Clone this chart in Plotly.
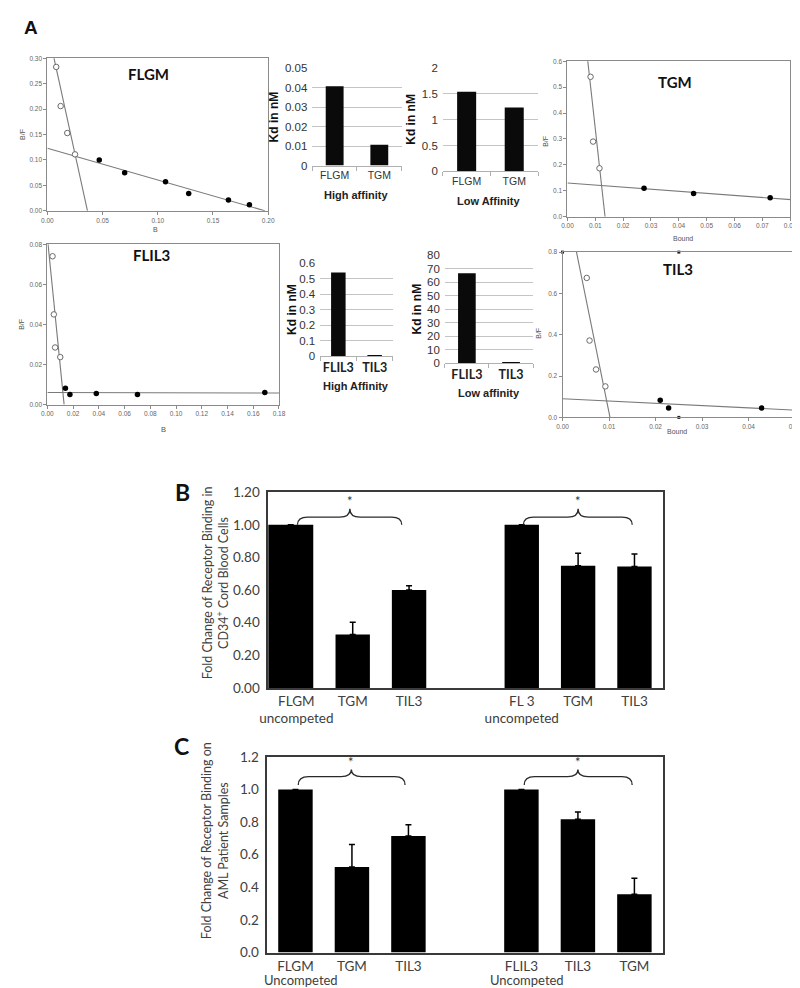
import plotly.graph_objects as go

# ---------------- Panel A: Scatchard data ----------------
flgm_hi_b = [0.008, 0.012, 0.018, 0.025]
flgm_hi_bf = [0.283, 0.206, 0.153, 0.111]
flgm_lo_b = [0.047, 0.070, 0.107, 0.128, 0.164, 0.183]
flgm_lo_bf = [0.100, 0.075, 0.057, 0.034, 0.021, 0.012]
flgm_fit_hi = (0.3595, 0.0363)   # (y-intercept, x-intercept)
flgm_fit_lo = (0.123, 0.197)

tgm_hi_b = [0.0083, 0.0092, 0.0115]
tgm_hi_bf = [0.54, 0.29, 0.187]
tgm_lo_b = [0.0275, 0.0453, 0.0728]
tgm_lo_bf = [0.110, 0.090, 0.073]
tgm_fit_hi = (1.307, 0.0135)
tgm_fit_lo = (0.130, 0.1625)

flil3_hi_b = [0.004, 0.005, 0.006, 0.010]
flil3_hi_bf = [0.074, 0.045, 0.0285, 0.0237]
flil3_lo_b = [0.014, 0.0175, 0.038, 0.070, 0.169]
flil3_lo_bf = [0.0081, 0.0050, 0.0055, 0.0050, 0.0060]
flil3_fit_hi = (0.0832, 0.013)
flil3_fit_lo = (0.0060, 5.4)

til3_hi_b = [0.0052, 0.0058, 0.0072, 0.0092]
til3_hi_bf = [0.675, 0.372, 0.232, 0.150]
til3_lo_b = [0.0210, 0.0228, 0.0428]
til3_lo_bf = [0.083, 0.046, 0.045]
til3_fit_hi = (1.133, 0.0102)
til3_fit_lo = (0.090, 0.0818)
til3_handles_x = [0.0, 0.025, 0.05, 0.05, 0.025]
til3_handles_y = [0.8, 0.8, 0.8, 0.4, 0.0]

# ---------------- Panel A: Kd bars ----------------
gm_cats = ["FLGM", "TGM"]
gm_kd_high = [0.0407, 0.0107]
gm_kd_low = [1.543, 1.238]
il3_cats = ["FLIL3", "TIL3"]
il3_kd_high = [0.538, 0.005]
il3_kd_low = [66.5, 1.0]

# ---------------- Panel B ----------------
b_labels = ["FLGM<br>uncompeted", "TGM", "TIL3", "FL 3<br>uncompeted", "TGM", "TIL3"]
b_values = [1.00, 0.328, 0.600, 1.00, 0.749, 0.745]
b_err = [None, 0.074, 0.026, None, 0.076, 0.076]

# ---------------- Panel C ----------------
c_labels = ["FLGM", "TGM", "TIL3", "FLIL3", "TIL3", "TGM"]
c_sublabels = ["Uncompeted", "", "", "Uncompeted", "", ""]
c_values = [1.00, 0.525, 0.714, 1.00, 0.818, 0.358]
c_err = [None, 0.138, 0.070, None, 0.044, 0.098]

W, H = 800, 988


def dom(x0, x1, y0, y1):
    return [x0 / W, x1 / W], [1 - y1 / H, 1 - y0 / H]


def px(x):
    return x / W


def py(y):
    return 1 - y / H


fig = go.Figure()
layout = dict(width=W, height=H, margin=dict(l=0, r=0, t=0, b=0),
              paper_bgcolor="white", plot_bgcolor="white", showlegend=False)
annotations = []
shapes = []

SC_FONT = dict(family="Liberation Sans, Arial", size=6.5, color="#666666")
GRAY = "#8a8a8a"


def scatter_axes(n, box, xr, yr, xd, yd, xf, yf):
    xd_, yd_ = dom(*box)
    common = dict(showline=True, mirror=True, linecolor=GRAY, linewidth=1,
                  ticks="outside", ticklen=3, tickcolor=GRAY, tickfont=SC_FONT,
                  showgrid=False, zeroline=False)
    layout[f"xaxis{n}"] = dict(domain=xd_, range=xr, dtick=xd, tick0=0, tickformat=xf,
                               anchor=f"y{n}", **common)
    layout[f"yaxis{n}"] = dict(domain=yd_, range=yr, dtick=yd, tick0=0, tickformat=yf,
                               anchor=f"x{n}", **common)


def scatchard(n, hb, hbf, lb, lbf, fit_hi, fit_lo):
    ax = dict(xaxis=f"x{n}", yaxis=f"y{n}")
    for yint, xint in (fit_hi, fit_lo):
        fig.add_trace(go.Scatter(x=[0, xint], y=[yint, 0], mode="lines",
                                 line=dict(color="#7a7a7a", width=1.1), **ax))
    fig.add_trace(go.Scatter(x=hb, y=hbf, mode="markers",
                             marker=dict(symbol="circle", size=5.5, color="white",
                                         line=dict(color="#6a6a6a", width=1)), **ax))
    fig.add_trace(go.Scatter(x=lb, y=lbf, mode="markers",
                             marker=dict(symbol="circle", size=5.5, color="black"), **ax))


# 1: FLGM
scatter_axes(1, (32, 257, 43, 198), [0, 0.20], [0, 0.30], 0.05, 0.05, ".2f", ".2f")
scatchard(1, flgm_hi_b, flgm_hi_bf, flgm_lo_b, flgm_lo_bf, flgm_fit_hi, flgm_fit_lo)
# 4: TGM
scatter_axes(4, (562, 789, 46, 204), [0, 0.08], [0, 0.6], 0.01, 0.1, ".2f", ".1f")
scatchard(4, tgm_hi_b, tgm_hi_bf, tgm_lo_b, tgm_lo_bf, tgm_fit_hi, tgm_fit_lo)
# 5: FLIL3
scatter_axes(5, (32, 268, 232, 395), [0, 0.18], [0, 0.08], 0.02, 0.02, ".2f", ".2f")
scatchard(5, flil3_hi_b, flil3_hi_bf, flil3_lo_b, flil3_lo_bf, flil3_fit_hi, flil3_fit_lo)
# 8: TIL3
scatter_axes(8, (557, 794, 240, 408), [0, 0.05], [0, 0.8], 0.01, 0.2, ".2f", ".1f")
scatchard(8, til3_hi_b, til3_hi_bf, til3_lo_b, til3_lo_bf, til3_fit_hi, til3_fit_lo)
fig.add_trace(go.Scatter(x=til3_handles_x, y=til3_handles_y, mode="markers", cliponaxis=False,
                         marker=dict(symbol="square", size=3, color="#222"),
                         xaxis="x8", yaxis="y8"))

# ---- Kd bar charts ----
KD_TICK = dict(family="Liberation Sans, Arial", size=11.5, color="#333333")


def kd_axes(n, box, yr, yd, catfont):
    xd_, yd_ = dom(*box)
    layout[f"xaxis{n}"] = dict(domain=xd_, anchor=f"y{n}", type="category",
                               showline=True, linecolor="#b0b0b0", linewidth=1,
                               ticks="outside", tickson="boundaries", ticklen=4,
                               tickcolor="#b0b0b0", tickfont=catfont, showgrid=False,
                               tickangle=0)
    layout[f"yaxis{n}"] = dict(domain=yd_, anchor=f"x{n}", range=yr, dtick=yd, tick0=0,
                               showgrid=True, gridcolor="#c4c4c4", gridwidth=1,
                               showline=False, zeroline=False, tickfont=KD_TICK,
                               ticks="", ticklabelstandoff=4)


def kd_bars(n, cats, vals):
    fig.add_trace(go.Bar(x=cats, y=vals, width=[0.4] * len(vals),
                         marker=dict(color="#0a0a0a", line=dict(width=0)),
                         xaxis=f"x{n}", yaxis=f"y{n}"))


GM_CAT = dict(family="Liberation Sans, Arial", size=10.5, color="#333333")
IL_CAT = dict(family="Lato, Liberation Sans", size=12.5, color="#222222", weight="bold")
kd_axes(2, (302, 393, 53, 152), [0, 0.05], 0.01, GM_CAT)
kd_bars(2, gm_cats, gm_kd_high)
kd_axes(3, (435, 532, 53, 158), [0, 2], 0.5, GM_CAT)
kd_bars(3, gm_cats, gm_kd_low)
kd_axes(6, (310, 384, 251, 346), [0, 0.6], 0.1, IL_CAT)
kd_bars(6, il3_cats, il3_kd_high)
kd_axes(7, (437, 527, 243, 353), [0, 80], 10, IL_CAT)
kd_bars(7, il3_cats, il3_kd_low)

# ---- Panels B & C ----
BC_FONT = dict(family="Lato, Open Sans", size=13.5, color="#404040")


def group_positions(n):
    return [i + (1 if i >= n // 2 else 0) for i in range(n)]


def bc_axes(n, box, ticks, labels, yfmt, standoff=0):
    xd_, yd_ = dom(*box)
    common = dict(showline=True, mirror=True, linecolor="#3a3a3a", linewidth=1.5,
                  showgrid=False, zeroline=False, tickfont=BC_FONT)
    layout[f"xaxis{n}"] = dict(domain=xd_, anchor=f"y{n}", range=[-0.5, 6.5],
                               tickvals=ticks, ticktext=labels, ticks="",
                               ticklabelstandoff=standoff, **common)
    layout[f"yaxis{n}"] = dict(domain=yd_, anchor=f"x{n}", range=[0, 1.2], dtick=0.2,
                               tick0=0, tickformat=yfmt, ticks="", ticklabelstandoff=4,
                               **common)


def brace(x0, x1, xm, y_end, y_mid, y_peak, d):
    return (f"M {x0},{y_end} Q {x0},{y_mid} {x0 + d},{y_mid} L {xm - d},{y_mid} "
            f"Q {xm},{y_mid} {xm},{y_peak} Q {xm},{y_mid} {xm + d},{y_mid} "
            f"L {x1 - d},{y_mid} Q {x1},{y_mid} {x1},{y_end}")


# B
b_pos = group_positions(len(b_values))
bc_axes(9, (257, 659, 484, 683), b_pos, b_labels, ".2f")
b_width = [0.8] + [0.61] * (len(b_values) - 1)
b_offset = [-0.5] + [-0.305] * (len(b_values) - 1)
fig.add_trace(go.Bar(x=b_pos, y=b_values, width=b_width, offset=b_offset,
                     marker=dict(color="black", line=dict(width=0)),
                     error_y=dict(type="data", array=b_err, arrayminus=[0] * len(b_err),
                                  symmetric=False, color="black", thickness=1.5, width=3),
                     xaxis="x9", yaxis="y9"))
for (x0, x1, xm) in ((0.02, 1.87, 0.95), (4.03, 5.96, 5.0)):
    shapes.append(dict(type="path", xref="x9", yref="y9",
                       path=brace(x0, x1, xm, 1.0, 1.047, 1.099, 0.18),
                       line=dict(color="#2a2a2a", width=1.3)))
    annotations.append(dict(x=xm, y=1.145, xref="x9", yref="y9", text="*", showarrow=False,
                            font=dict(family="Lato", size=13, color="#333")))

# C
c_pos = group_positions(len(c_values))
bc_axes(10, (256, 659, 753, 952), c_pos, c_labels, ".1f", standoff=0)
fig.add_trace(go.Bar(x=c_pos, y=c_values, width=[0.61] * len(c_values),
                     marker=dict(color="black", line=dict(width=0)),
                     error_y=dict(type="data", array=c_err, arrayminus=[0] * len(c_err),
                                  symmetric=False, color="black", thickness=1.5, width=3),
                     xaxis="x10", yaxis="y10"))
for (x0, x1, xm) in ((0.05, 1.94, 0.99), (4.05, 5.96, 5.0)):
    shapes.append(dict(type="path", xref="x10", yref="y10",
                       path=brace(x0, x1, xm, 1.027, 1.078, 1.122, 0.18),
                       line=dict(color="#2a2a2a", width=1.3)))
    annotations.append(dict(x=xm, y=1.168, xref="x10", yref="y10", text="*", showarrow=False,
                            font=dict(family="Lato", size=13, color="#333")))
SUB_FONT = dict(family="Lato, Open Sans", size=13, color="#404040")
for p, sub in zip(c_pos, c_sublabels):
    if sub:
        annotations.append(dict(x=p + 0.09, y=py(980), xref="x10", yref="paper", text=sub,
                                showarrow=False, xanchor="center", yanchor="middle",
                                font=SUB_FONT))


# ---- text annotations ----
def ann(x, y, text, size, color="#222", bold=False, family="Liberation Sans, Arial",
        angle=0):
    annotations.append(dict(x=px(x), y=py(y), xref="paper", yref="paper", text=text,
                            showarrow=False, xanchor="center", yanchor="middle",
                            textangle=angle,
                            font=dict(family=family, size=size, color=color,
                                      weight="bold" if bold else "normal")))


ann(15, 12, "A", 19, "#111", True)
ann(169.5, 484, "B", 23, "#111", True, "Lato, Liberation Sans")
ann(169, 742.5, "C", 23, "#111", True, "Lato, Liberation Sans")

ann(135.5, 59, "FLGM", 15, "#111", True, "Lato")
ann(672, 67.5, "TGM", 15, "#111", True, "Lato")
ann(138, 242.5, "FLIL3", 15, "#111", True, "Lato")
ann(675, 257.5, "TIL3", 15, "#111", True, "Lato")

ann(6, 120, "B/F", 7, "#555", angle=-90)
ann(142, 217, "B", 7, "#555")
ann(540, 127, "B/F", 7, "#555", angle=-90)
ann(680, 226, "Bound", 7, "#555")
ann(6, 313, "B/F", 7, "#555", angle=-90)
ann(150, 420, "B", 7.5, "#555")
ann(533, 323, "B/F", 7, "#555", angle=-90)
ann(674, 422, "Bound", 7, "#555")

ann(263, 103, "Kd in nM", 12, "#111", True, angle=-90)
ann(403, 105, "Kd in nM", 12, "#111", True, angle=-90)
ann(281, 298, "Kd in nM", 12, "#111", True, angle=-90)
ann(409, 298, "Kd in nM", 12, "#111", True, angle=-90)
ann(347, 182, "High affinity", 11, "#222", True)
ann(482, 188, "Low Affinity", 11, "#222", True)
ann(347, 376, "High Affinity", 11, "#222", True)
ann(482, 383, "Low affinity", 11, "#222", True)

ann(203.5, 576, "Fold Change of Receptor Binding in<br>CD34<sup>+</sup> Cord Blood Cells",
    12.5, "#404040", family="Lato, Open Sans", angle=-90)
ann(202.5, 838, "Fold Change of Receptor Binding on<br>AML Patient Samples",
    12.5, "#404040", family="Lato, Open Sans", angle=-90)

layout["annotations"] = annotations
layout["shapes"] = shapes
fig.update_layout(**layout)
fig.write_html("out.html")
